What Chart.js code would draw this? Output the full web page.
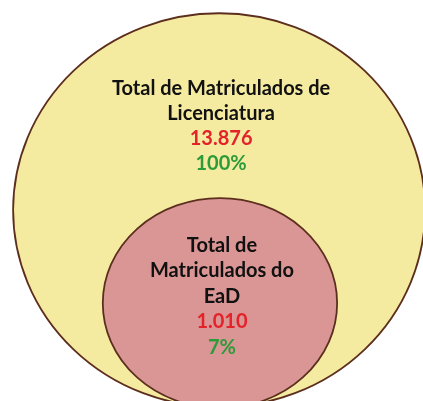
<!DOCTYPE html>
<html>
<head>
<meta charset="utf-8">
<script src="https://cdn.jsdelivr.net/npm/chart.js@4"></script>
<style>
  html, body { margin: 0; padding: 0; background: #fff; }
  canvas { display: block; }
</style>
</head>
<body>
<canvas id="vennChart" width="423" height="401"></canvas>
<script>
// Data
const groupTitles = [
    ['Total de Matriculados de', 'Licenciatura'],
    ['Total de', 'Matriculados do', 'EaD']
];
const totals = [13876, 1010];
const shares = [100, 7];

// Layout of the two circles, in axis units (0..100 both ways)
const centersX = [51.8, 52.0];
const centersY = [47.6, 24.4];
const radiiX = [48.7, 27.7];
const radiiY = [49.1, 26.2];
const textTopY = [76.3, 37.2];   // baseline of first text line

const fills = ['#f5eba0', '#d99694'];
const outline = '#5c2e1e';

const formatNumber = (v) => v.toLocaleString('de-DE');

const ellipsePlugin = {
    id: 'ellipses',
    afterDatasetsDraw(chart) {
        const { ctx, scales: { x, y } } = chart;
        chart.data.datasets.forEach((ds) => {
            const pt = ds.data[0];
            const cx = x.getPixelForValue(pt.x);
            const cy = y.getPixelForValue(pt.y);
            const rx = Math.abs(x.getPixelForValue(pt.x + pt.rx) - cx);
            const ry = Math.abs(y.getPixelForValue(pt.y + pt.ry) - cy);
            ctx.save();
            ctx.beginPath();
            ctx.ellipse(cx, cy, rx, ry, 0, 0, Math.PI * 2);
            ctx.fillStyle = ds.backgroundColor;
            ctx.fill();
            ctx.lineWidth = 1.8;
            ctx.strokeStyle = ds.borderColor;
            ctx.stroke();
            ctx.restore();
        });
        // labels on top
        chart.data.datasets.forEach((ds, i) => {
            const pt = ds.data[0];
            const tx = x.getPixelForValue(pt.x) + 2;
            let ty = y.getPixelForValue(ds.textY);
            const lh = i === 0 ? 25 : 25.5;
            ctx.save();
            ctx.textAlign = 'center';
            ctx.textBaseline = 'alphabetic';
            ctx.font = 'bold 20px Lato, "Open Sans", sans-serif';
            ds.titleLines.forEach(line => {
                ctx.fillStyle = '#111';
                ctx.fillText(line, tx, ty);
                ty += lh;
            });
            ctx.fillStyle = '#e3222a';
            ctx.fillText(formatNumber(ds.total), tx, ty);
            ty += lh;
            ctx.fillStyle = '#2e9b3b';
            ctx.fillText(ds.share + '%', tx, ty);
            ctx.restore();
        });
    }
};

const datasets = totals.map((t, i) => ({
    label: groupTitles[i].join(' '),
    data: [{ x: centersX[i], y: centersY[i], rx: radiiX[i], ry: radiiY[i] }],
    backgroundColor: fills[i],
    borderColor: outline,
    pointRadius: 0,
    titleLines: groupTitles[i],
    total: t,
    share: shares[i],
    textY: textTopY[i]
}));

const chart = new Chart(document.getElementById('vennChart').getContext('2d'), {
    type: 'scatter',
    data: { datasets },
    options: {
        responsive: false,
        animation: false,
        layout: { padding: 0 },
        scales: {
            x: { display: false, min: 0, max: 100 },
            y: { display: false, min: 0, max: 100 }
        },
        plugins: { legend: { display: false }, tooltip: { enabled: false } }
    },
    plugins: [ellipsePlugin]
});
</script>
</body>
</html>
